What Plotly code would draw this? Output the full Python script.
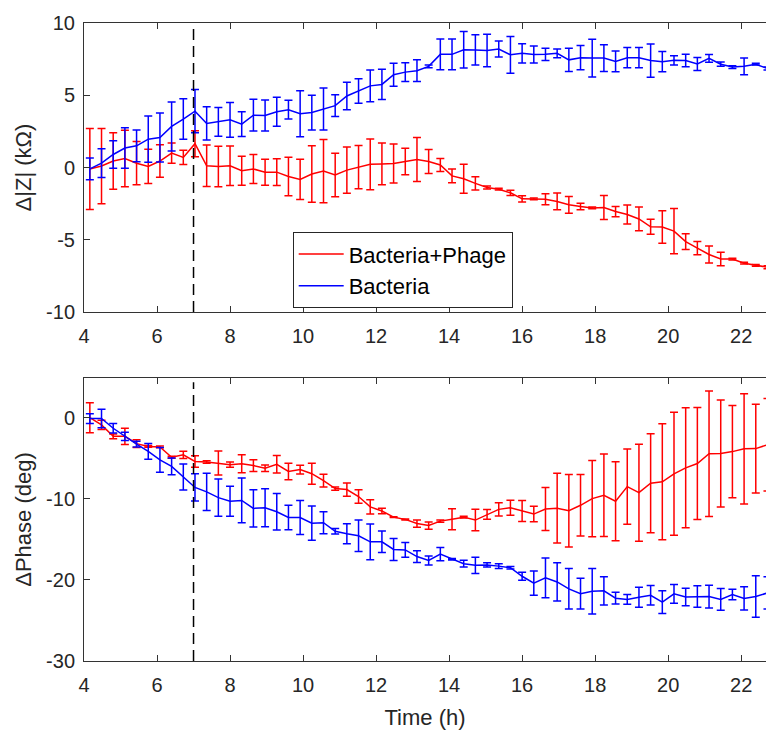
import plotly.graph_objects as go

# ---------------- data ----------------
time_h = [4.16, 4.48, 4.80, 5.12, 5.44, 5.76, 6.08, 6.40, 6.72, 7.04,
          7.36, 7.68, 8.00, 8.32, 8.64, 8.96, 9.28, 9.60, 9.92, 10.24,
          10.56, 10.88, 11.20, 11.52, 11.84, 12.16, 12.48, 12.80, 13.12, 13.44,
          13.76, 14.08, 14.40, 14.72, 15.04, 15.36, 15.68, 16.00, 16.32, 16.64,
          16.96, 17.28, 17.60, 17.92, 18.24, 18.56, 18.88, 19.20, 19.52, 19.84,
          20.16, 20.48, 20.80, 21.12, 21.44, 21.76, 22.08, 22.40, 22.72]

dz_phage = [-0.1, 0.1, 0.45, 0.62, 0.3, 0.08, 0.45, 1.0, 0.7, 1.65,
            0.12, 0.07, 0.12, -0.22, -0.1, -0.32, -0.32, -0.62, -0.82, -0.45,
            -0.25, -0.52, -0.18, 0.03, 0.22, 0.25, 0.28, 0.42, 0.55, 0.42,
            0.18, -0.58, -0.78, -1.1, -1.38, -1.5, -1.75, -2.17, -2.17, -2.2,
            -2.35, -2.58, -2.7, -2.8, -2.77, -3.05, -3.25, -3.56, -4.1, -4.12,
            -4.4, -5.13, -5.58, -6.02, -6.33, -6.34, -6.62, -6.78, -6.9]
dz_phage_err = [2.8, 2.6, 1.95, 1.95, 1.5, 1.18, 1.12, 0.7, 0.5, 0.9,
                1.43, 1.4, 1.36, 1.0, 1.0, 0.9, 0.92, 1.33, 1.4, 1.96,
                2.19, 1.5, 1.6, 1.5, 1.76, 1.44, 1.35, 0.92, 1.52, 0.83,
                0.45, 0.48, 1.0, 0.46, 0.1, 0.06, 0.18, 0.22, 0.06, 0.38,
                0.58, 0.58, 0.23, 0.06, 0.83, 0.35, 0.66, 0.82, 0.52, 1.12,
                1.56, 0.55, 0.46, 0.58, 0.46, 0.06, 0.06, 0.06, 0.1]

dz_bact = [-0.1, 0.3, 0.9, 1.35, 1.5, 1.96, 2.08, 2.84, 3.35, 3.9,
           3.05, 3.16, 3.3, 3.0, 3.62, 3.6, 3.86, 4.0, 3.72, 3.8,
           4.05, 4.28, 4.95, 5.3, 5.65, 5.75, 6.42, 6.6, 6.7, 7.0,
           7.83, 7.83, 8.15, 8.14, 8.1, 8.2, 7.8, 7.9, 7.82, 7.83,
           7.9, 7.45, 7.6, 7.57, 7.57, 7.34, 7.6, 7.6, 7.4, 7.32,
           7.42, 7.4, 7.16, 7.55, 7.15, 6.95, 7.0, 7.15, 6.85]
dz_bact_err = [0.75, 1.0, 0.95, 1.4, 1.1, 1.6, 1.7, 1.7, 1.4, 1.5,
               1.15, 1.0, 1.2, 0.85, 1.1, 1.07, 1.0, 0.65, 1.6, 1.2,
               1.45, 0.75, 0.95, 0.85, 1.1, 1.05, 0.8, 0.65, 0.75, 0.1,
               1.07, 1.07, 1.27, 1.04, 1.13, 0.55, 1.27, 0.67, 0.58, 0.43,
               0.3, 0.8, 0.84, 1.3, 0.92, 0.72, 0.7, 0.7, 1.15, 0.7,
               0.32, 0.43, 0.45, 0.27, 0.15, 0.1, 0.58, 0.06, 0.1]

dph_phage = [0.0, -0.88, -2.3, -2.3, -3.2, -3.54, -3.6, -4.88, -4.58, -5.4,
             -5.46, -5.58, -5.79, -5.68, -5.9, -6.22, -5.75, -6.62, -6.4, -6.9,
             -7.75, -8.74, -8.86, -9.72, -11.0, -11.5, -12.26, -12.54, -13.05, -13.3,
             -12.75, -12.52, -12.26, -12.62, -11.92, -11.3, -11.1, -11.5, -11.88, -11.25,
             -11.15, -11.47, -10.8, -9.98, -9.56, -10.3, -8.5, -9.24, -8.07, -7.9,
             -6.92, -6.18, -5.65, -4.44, -4.42, -4.18, -3.83, -3.81, -3.33]
dph_phage_err = [1.85, 0.57, 0.3, 1.0, 0.47, 0.1, 0.1, 0.12, 0.45, 0.7,
                 0.15, 1.47, 0.33, 1.12, 0.72, 0.4, 1.08, 1.02, 0.53, 1.3,
                 0.78, 0.2, 0.82, 0.84, 0.88, 0.33, 0.06, 0.06, 0.45, 0.45,
                 0.15, 1.3, 0.1, 1.33, 0.6, 0.82, 0.92, 1.3, 0.95, 2.66,
                 4.3, 4.47, 3.8, 4.7, 5.1, 4.87, 4.63, 5.98, 6.1, 7.15,
                 7.58, 7.4, 6.9, 7.74, 6.6, 5.7, 6.8, 5.47, 5.7]

dph_bact = [-0.1, -0.1, -1.3, -2.3, -3.25, -4.15, -5.2, -6.0, -7.3, -8.6,
            -9.15, -9.85, -10.3, -10.2, -11.18, -11.1, -11.6, -12.3, -12.3, -13.0,
            -12.95, -14.0, -14.3, -14.55, -15.3, -15.3, -16.25, -16.3, -17.12, -17.6,
            -16.82, -17.45, -18.0, -18.2, -18.15, -18.3, -18.5, -19.55, -20.4, -19.75,
            -20.25, -21.1, -21.7, -21.4, -21.35, -22.25, -22.4, -22.15, -21.9, -22.75,
            -21.72, -22.1, -22.05, -22.05, -22.4, -21.8, -22.28, -22.05, -21.6]
dph_bact_err = [0.6, 1.13, 0.6, 0.5, 0.35, 0.98, 1.53, 1.03, 1.6, 1.68,
                2.3, 2.3, 1.84, 2.76, 2.3, 2.35, 2.25, 1.5, 2.1, 2.1,
                1.35, 0.33, 1.23, 1.95, 2.2, 1.33, 1.35, 0.92, 0.72, 0.55,
                0.82, 0.1, 0.41, 1.0, 0.27, 0.3, 0.15, 0.5, 1.5, 2.45,
                2.35, 2.5, 1.9, 2.8, 1.74, 0.72, 0.6, 1.23, 1.2, 1.4,
                1.15, 1.08, 1.33, 1.4, 1.33, 0.65, 1.43, 2.56, 2.0]

series_names = ["Bacteria+Phage", "Bacteria"]
series_colors = ["#FF0000", "#0000FF"]
treatment_time = 7
x_ticks = [4, 6, 8, 10, 12, 14, 16, 18, 20, 22]
z_ticks = [-10, -5, 0, 5, 10]
ph_ticks = [-30, -20, -10, 0]

# ---------------- figure ----------------
FONT = "Liberation Sans, Arial, Helvetica, sans-serif"
AX = "#333333"
TXT = "#262626"

fig = go.Figure()

panels = [
    ("x", "y", [(dz_phage, dz_phage_err), (dz_bact, dz_bact_err)], True),
    ("x2", "y2", [(dph_phage, dph_phage_err), (dph_bact, dph_bact_err)], False),
]
for xa, ya, series, legend in panels:
    for (vals, errs), name, col in zip(series, series_names, series_colors):
        fig.add_trace(go.Scatter(
            x=time_h, y=vals, mode="lines", name=name,
            line=dict(color=col, width=1.5),
            error_y=dict(type="data", array=errs, visible=True,
                         color=col, thickness=1.5, width=4),
            xaxis=xa, yaxis=ya, showlegend=legend,
        ))

for xref, yref in [("x", "y domain"), ("x2", "y2 domain")]:
    fig.add_shape(type="line", xref=xref, yref=yref,
                  x0=treatment_time, x1=treatment_time, y0=0, y1=0.985,
                  line=dict(color="black", width=1.5, dash="11px,6px"))

common_x = dict(range=[4, 22.68], tickvals=x_ticks, ticks="inside", ticklen=6,
                tickcolor=AX, showline=True, linecolor=AX, linewidth=1,
                mirror="ticks", showgrid=False, zeroline=False,
                ticklabelstandoff=6,
                tickfont=dict(family=FONT, size=20, color=TXT))
common_y = dict(ticks="inside", ticklen=6, tickcolor=AX, showline=True,
                linecolor=AX, linewidth=1, mirror=False, showgrid=False,
                zeroline=False, tickfont=dict(family=FONT, size=20, color=TXT),
                ticklabelstandoff=4)

fig.update_layout(
    width=766, height=731,
    margin=dict(l=84, r=0, t=23, b=70, autoexpand=False),
    paper_bgcolor="white", plot_bgcolor="white",
    font=dict(family=FONT, color=TXT),
    xaxis=dict(**common_x, anchor="y", domain=[0, 1]),
    yaxis=dict(**common_y, anchor="x", domain=[0.547, 1], range=[-10, 10],
               tickvals=z_ticks, ticktext=[str(v) for v in z_ticks],
               title=dict(text="Δ|Z| (kΩ)", font=dict(size=22, family=FONT, color=TXT),
                          standoff=8)),
    xaxis2=dict(**common_x, anchor="y2", domain=[0, 1],
                title=dict(text="Time (h)", font=dict(size=22, family=FONT, color=TXT),
                           standoff=14)),
    yaxis2=dict(**common_y, anchor="x2", domain=[0, 0.4436], range=[-30, 4.9],
                tickvals=ph_ticks, ticktext=[str(v) for v in ph_ticks],
                title=dict(text="ΔPhase (deg)", font=dict(size=22, family=FONT, color=TXT),
                           standoff=8)),
    legend=dict(x=0.306, y=0.672, xanchor="left", yanchor="top",
                bgcolor="white", bordercolor="#262626", borderwidth=1,
                font=dict(family=FONT, size=22, color="#000000"),
                itemwidth=45, tracegroupgap=0),
    showlegend=True,
)

fig.write_html("out.html")
